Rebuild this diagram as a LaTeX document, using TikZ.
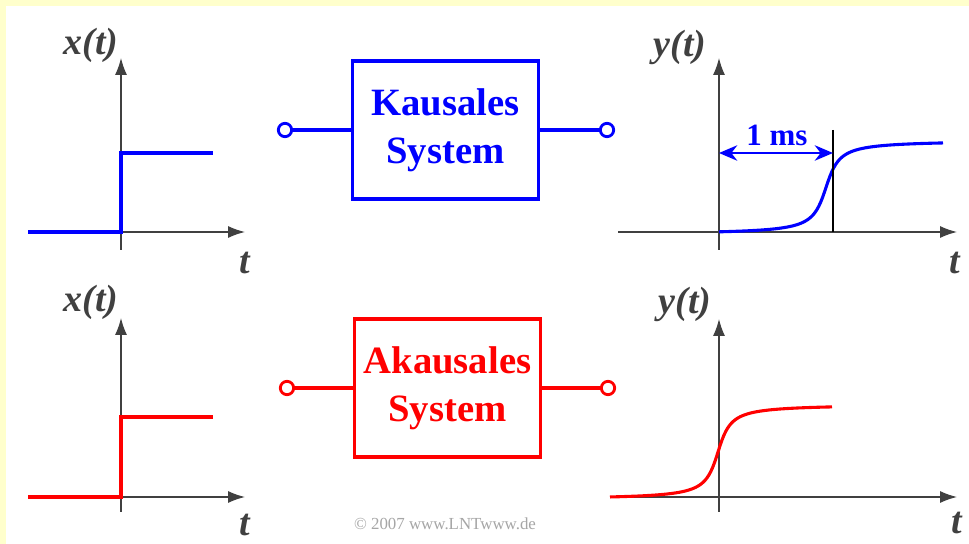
\documentclass[tikz,border=0pt]{standalone}
\usepackage{fontspec}
\setmainfont{Liberation Serif}
\usetikzlibrary{arrows.meta,positioning,calc}

\definecolor{lntblue}{RGB}{0,0,255}
\definecolor{lntred}{RGB}{255,0,0}
\definecolor{axisgray}{RGB}{64,64,64}
\definecolor{paleyellow}{RGB}{255,255,204}

\begin{document}
\begin{tikzpicture}[
    x=0.025cm, y=-0.025cm,
    declare function={sig(\u)=(atan(\u)+85)/170;},
    % --- Axis and signal styles ---
    axis/.style={draw=axisgray, line width=1pt, -{Latex[length=12pt, width=8.5pt]}},
    signal/.style={line width=2.2pt},
    axlabel/.style={font=\fontsize{27}{30}\selectfont\bfseries\itshape, text=axisgray},
    % --- Block styles ---
    sysbox/.style={draw, line width=2.2pt, minimum width=4.65cm, minimum height=3.45cm,
      align=center, font=\fontsize{27.5}{34}\selectfont\bfseries},
    terminal/.style={draw=#1, circle, line width=2pt, fill=white, minimum size=9.5pt, inner sep=0pt},
    wire/.style={line width=2.3pt},
    % --- Annotation ---
    delay/.style={line width=1.6pt, {Stealth[length=13pt, width=11pt]}-{Stealth[length=13pt, width=11pt]}},
]

% === Background ===
\path[use as bounding box, fill=paleyellow] (0,0) rectangle (969,544);
\fill[white] (6,6) rectangle (969,544);

% === Causal system (top row) ===
\coordinate (xo1) at (121,232);
\draw[axis] (28,232) -- (245,232);
\draw[axis] (121,250) -- (121,58);
\draw[signal, lntblue] (28,232) -- (xo1) -- (121,153) -- (213,153);
\node[axlabel] (xlab1) at (91,45) {x(t)};
\node[axlabel] (tlab1) at (245,263) {t};

\node[sysbox, lntblue] (ks) at (445.5,130) {Kausales\\System};
\node[terminal=lntblue] (kin) at (285,130) {};
\node[terminal=lntblue] (kout) at (607,130) {};
\draw[wire, lntblue] (kin) -- (ks);
\draw[wire, lntblue] (ks) -- (kout);

\coordinate (yo1) at (719,232);
\draw[axis] (618,232) -- (957,232);
\draw[axis] (719,250) -- (719,58);
\draw[signal, lntblue] plot[domain=719:943, samples=120] (\x, {232-89*sig((\x-826)/10)});
\node[axlabel] (ylab1) at (680,47) {y(t)};
\node[axlabel] (tlab2) at (955,263) {t};

% delay of 1 ms
\coordinate (tzero) at (719,153);
\coordinate (tdelay) at (833,153);
\draw[line width=1pt] (833,130) -- (833,232);
\draw[delay, lntblue] (tzero) -- (tdelay);
\node[lntblue, font=\fontsize{22}{24}\selectfont\bfseries] (dlab) at (777,135) {1 ms};

% === Non-causal system (bottom row) ===
\coordinate (xo2) at (121,497);
\draw[axis] (28,497) -- (245,497);
\draw[axis] (121,512) -- (121,318);
\draw[signal, lntred] (28,497) -- (xo2) -- (121,417) -- (213,417);
\node[axlabel] (xlab2) at (91,302) {x(t)};
\node[axlabel] (tlab3) at (245,525) {t};

\node[sysbox, lntred] (aks) at (447.5,388) {Akausales\\System};
\node[terminal=lntred] (akin) at (287,388) {};
\node[terminal=lntred] (akout) at (608,388) {};
\draw[wire, lntred] (akin) -- (aks);
\draw[wire, lntred] (aks) -- (akout);

\coordinate (yo2) at (719,497);
\draw[axis] (610,497) -- (957,497);
\draw[axis] (719,512) -- (719,319);
\draw[signal, lntred] plot[domain=610:832, samples=120] (\x, {497-90*sig((\x-718)/9.6)});
\node[axlabel] (ylab2) at (685,304) {y(t)};
\node[axlabel] (tlab4) at (957,523) {t};

% === Copyright ===
\node[text=black!35, font=\fontsize{12}{14}\selectfont] (copy) at (445,524) {© 2007 www.LNTwww.de};

\end{tikzpicture}
\end{document}
